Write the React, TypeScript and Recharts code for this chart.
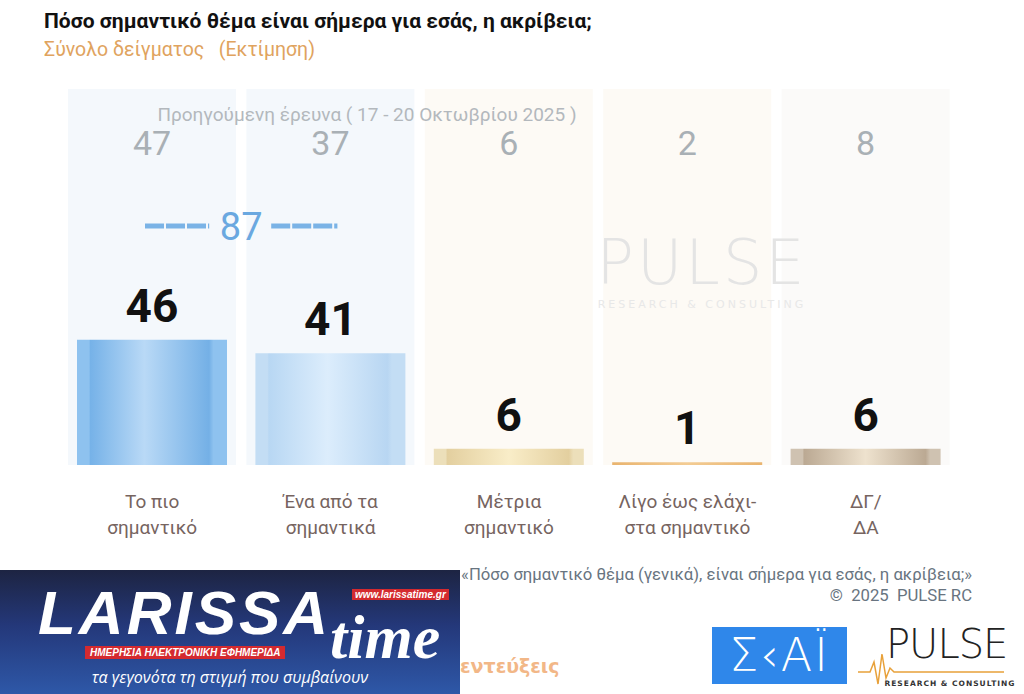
import React from "react";
import { BarChart, Bar, XAxis, YAxis, Cell, LabelList } from "recharts";

// survey answers (two-line tick labels)
const categories = [
  ["Το πιο", "σημαντικό"],
  ["Ένα από τα", "σημαντικά"],
  ["Μέτρια", "σημαντικό"],
  ["Λίγο έως ελάχι-", "στα σημαντικό"],
  ["ΔΓ/", "ΔΑ"],
];
const currentValues = [46, 41, 6, 1, 6];
const previousValues = [47, 37, 6, 2, 8];
const topTwoTotal = 87;

const panelColors = ["#f4f8fc", "#f4f8fc", "#fdfaf5", "#fdfaf5", "#fbfaf9"];
const barFills = ["url(#g0)", "url(#g1)", "url(#g2)", "url(#g3)", "url(#g4)"];

const NARROW = "'Roboto', sans-serif";
const PLOT_LEFT = 63;
const PLOT_RIGHT = 955;
const PLOT_TOP = 89;
const PLOT_BOTTOM = 465;
const STEP = (PLOT_RIGHT - PLOT_LEFT) / categories.length;

const data = categories.map((c, i) => ({
  name: c.join(" "),
  value: currentValues[i],
  prev: previousValues[i],
}));

const PanelShape = (props: any) => {
  const { x, y, width, height, index } = props;
  const cx = x + width / 2;
  return (
    <g>
      <rect x={x - 9} y={y} width={width + 18} height={height} fill={panelColors[index]} />
      <text x={cx} y={y + 66} textAnchor="middle" fontFamily={NARROW} fontSize={34} fill="#a9b0b5">
        {previousValues[index]}
      </text>
    </g>
  );
};

// combined "important" total drawn between the first two columns
const TotalMarker = (props: any) => {
  const { x, width, index } = props;
  if (index !== 0) return null;
  const c0 = x + width / 2;
  const mid = c0 + STEP / 2;
  const lineY = PLOT_TOP + 137;
  return (
    <g>
      <line x1={c0 - 7} x2={mid - 32} y1={lineY} y2={lineY} stroke="#7ab3e6" strokeWidth={5} strokeDasharray="19 2" />
      <line x1={mid + 30} x2={c0 + STEP + 7} y1={lineY} y2={lineY} stroke="#7ab3e6" strokeWidth={5} strokeDasharray="19 2" />
      <text x={mid} y={lineY + 14} textAnchor="middle" fontFamily={NARROW} fontSize={38} fill="#6aa8e0">
        {topTwoTotal}
      </text>
    </g>
  );
};

const ValueLabel = (props: any) => {
  const { x, y, width, value } = props;
  return (
    <text x={x + width / 2} y={y - 18} textAnchor="middle" fontFamily={NARROW} fontWeight="bold" fontSize={46} fill="#111">
      {value}
    </text>
  );
};

const CategoryTick = (props: any) => {
  const { x, y, index } = props;
  const lines = categories[index] || [];
  return (
    <text x={x} y={y} textAnchor="middle" fontFamily={NARROW} fontSize={19} fill="#76645f">
      {lines.map((l, i) => (
        <tspan key={i} x={x} dy={i === 0 ? 35 : 26}>
          {l}
        </tspan>
      ))}
    </text>
  );
};

const grad = (id: string, stops: [number, string][]) => (
  <linearGradient id={id} x1="0" y1="0" x2="1" y2="0">
    {stops.map(([o, c], i) => (
      <stop key={i} offset={`${o}%`} stopColor={c} />
    ))}
  </linearGradient>
);

export default function App() {
  return (
    <div
      style={{
        position: "absolute",
        left: 0,
        top: 0,
        width: 1024,
        height: 694,
        overflow: "hidden",
        background: "#fff",
        fontFamily: NARROW,
      }}
    >
      <div style={{ position: "absolute", left: 44, top: 9, fontSize: 21, fontWeight: "bold", color: "#111" }}>
        Πόσο σημαντικό θέμα είναι σήμερα για εσάς, η ακρίβεια;
      </div>
      <div style={{ position: "absolute", left: 44, top: 38, fontSize: 19.5, color: "#e0a35e", whiteSpace: "pre" }}>
        Σύνολο δείγματος   (Εκτίμηση)
      </div>

      <div style={{ position: "absolute", left: 0, top: 0 }}>
        <BarChart
          width={1024}
          height={694}
          data={data}
          margin={{ top: PLOT_TOP, left: PLOT_LEFT, right: 1024 - PLOT_RIGHT, bottom: 694 - PLOT_BOTTOM - 80 }}
          barSize={150}
        >
          <defs>
            {grad("g0", [[0, "#8ec2ef"], [8, "#8ec2ef"], [9, "#76b2e8"], [45, "#b9d9f6"], [88, "#74b0e6"], [91, "#8ec2ef"], [100, "#8ec2ef"]])}
            {grad("g1", [[0, "#c3ddf4"], [8, "#c3ddf4"], [9, "#b8d7f3"], [48, "#dcedfc"], [88, "#b8d6f2"], [91, "#c3ddf4"], [100, "#c3ddf4"]])}
            {grad("g2", [[0, "#ecdfba"], [8, "#ecdfba"], [9, "#e3cf9f"], [50, "#f9edc8"], [90, "#e3cf9f"], [93, "#ecdfba"], [100, "#ecdfba"]])}
            {grad("g3", [[0, "#e9b46f"], [50, "#f3cc94"], [100, "#e9b46f"]])}
            {grad("g4", [[0, "#cfc2b1"], [8, "#cfc2b1"], [9, "#bba993"], [50, "#eee2ce"], [90, "#bba993"], [93, "#cfc2b1"], [100, "#cfc2b1"]])}
          </defs>
          <XAxis dataKey="name" axisLine={false} tickLine={false} interval={0} height={80} tick={<CategoryTick />} />
          <YAxis hide domain={[0, 138]} />
          <Bar dataKey="value" isAnimationActive={false} background={<PanelShape />}>
            {data.map((d, i) => (
              <Cell key={d.name} fill={barFills[i]} />
            ))}
            <LabelList dataKey="value" content={<ValueLabel />} />
            <LabelList dataKey="prev" content={<TotalMarker />} />
          </Bar>
          {/* watermark */}
          <text x={702} y={284} textAnchor="middle" fontFamily="'DejaVu Sans', sans-serif" fontWeight={200} fontSize={62} letterSpacing={3} fill="#e4e4e4">
            PULSE
          </text>
          <text x={702} y={308} textAnchor="middle" fontFamily="'DejaVu Sans', sans-serif" fontSize={11} letterSpacing={3} fill="#e8e8e8">
            RESEARCH &amp; CONSULTING
          </text>
          <text x={367} y={121} textAnchor="middle" fontFamily={NARROW} fontSize={19} fill="#b3b8bd">
            Προηγούμενη έρευνα ( 17 - 20 Οκτωβρίου 2025 )
          </text>
        </BarChart>
      </div>

      <div style={{ position: "absolute", right: 52, top: 564, fontSize: 16.7, color: "#687480", textAlign: "right", lineHeight: "21px" }}>
        «Πόσο σημαντικό θέμα (γενικά), είναι σήμερα για εσάς, η ακρίβεια;»
        <br />©&nbsp; 2025&nbsp; PULSE RC
      </div>

      <div style={{ position: "absolute", left: 460, top: 655, fontSize: 19, fontWeight: "bold", color: "#f2b787", fontFamily: "'DejaVu Sans', sans-serif" }}>
        εντεύξεις
      </div>

      {/* LARISSA time banner */}
      <div
        style={{
          position: "absolute",
          left: 0,
          top: 570,
          width: 460,
          height: 124,
          background: "linear-gradient(180deg, #1d2442 0%, #24387a 45%, #2e58a8 100%)",
          color: "#fff",
          fontFamily: "'Liberation Sans', sans-serif",
        }}
      >
        <div style={{ position: "absolute", left: 38, top: 7, fontSize: 62, fontWeight: "bold", fontStyle: "italic", letterSpacing: 3 }}>
          LARISSA
        </div>
        <div style={{ position: "absolute", left: 330, top: 36, fontSize: 62, lineHeight: "62px", fontStyle: "italic", fontWeight: "bold", fontFamily: "'Liberation Serif', serif" }}>
          time
        </div>
        <div style={{ position: "absolute", left: 352, top: 19, lineHeight: "11px", background: "#d42a2f", fontSize: 10, fontWeight: "bold", fontStyle: "italic", padding: "0 3px" }}>
          www.larissatime.gr
        </div>
        <div style={{ position: "absolute", left: 85, top: 76, lineHeight: "11px", background: "#d42a2f", fontSize: 10, fontWeight: "bold", fontStyle: "italic", padding: "1px 5px" }}>
          ΗΜΕΡΗΣΙΑ ΗΛΕΚΤΡΟΝΙΚΗ ΕΦΗΜΕΡΙΔΑ
        </div>
        <div style={{ position: "absolute", left: 0, width: 460, top: 97, lineHeight: "20px", textAlign: "center", fontSize: 16, fontStyle: "italic", fontFamily: "'Open Sans', sans-serif" }}>
          τα γεγονότα τη στιγμή που συμβαίνουν
        </div>
      </div>

      {/* SKAI logo */}
      <div
        style={{
          position: "absolute",
          left: 712,
          top: 627,
          width: 135,
          height: 57,
          background: "#2f87ea",
          color: "#fff",
          fontSize: 46,
          fontFamily: "'DejaVu Sans', sans-serif",
          fontWeight: 300,
          textAlign: "center",
          lineHeight: "57px",
          letterSpacing: 2,
        }}
      >
        Σ‹ΑΪ
      </div>

      {/* PULSE logo */}
      <div style={{ position: "absolute", left: 886, top: 622, fontSize: 40, lineHeight: "44px", fontFamily: "'DejaVu Sans', sans-serif", fontWeight: 200, color: "#222", letterSpacing: -1 }}>
        PULSE
      </div>
      <svg style={{ position: "absolute", left: 856, top: 640 }} width={160} height={50}>
        <polyline points="2,32 14,32 18,22 22,44 26,14 30,38 34,28 38,32 148,32" fill="none" stroke="#e8a13a" strokeWidth={1.5} />
        <text x={94} y={46} fontSize={7.5} fontWeight="bold" letterSpacing={1} fill="#333" fontFamily="'DejaVu Sans', sans-serif" textAnchor="middle">
          RESEARCH &amp; CONSULTING
        </text>
      </svg>
    </div>
  );
}
